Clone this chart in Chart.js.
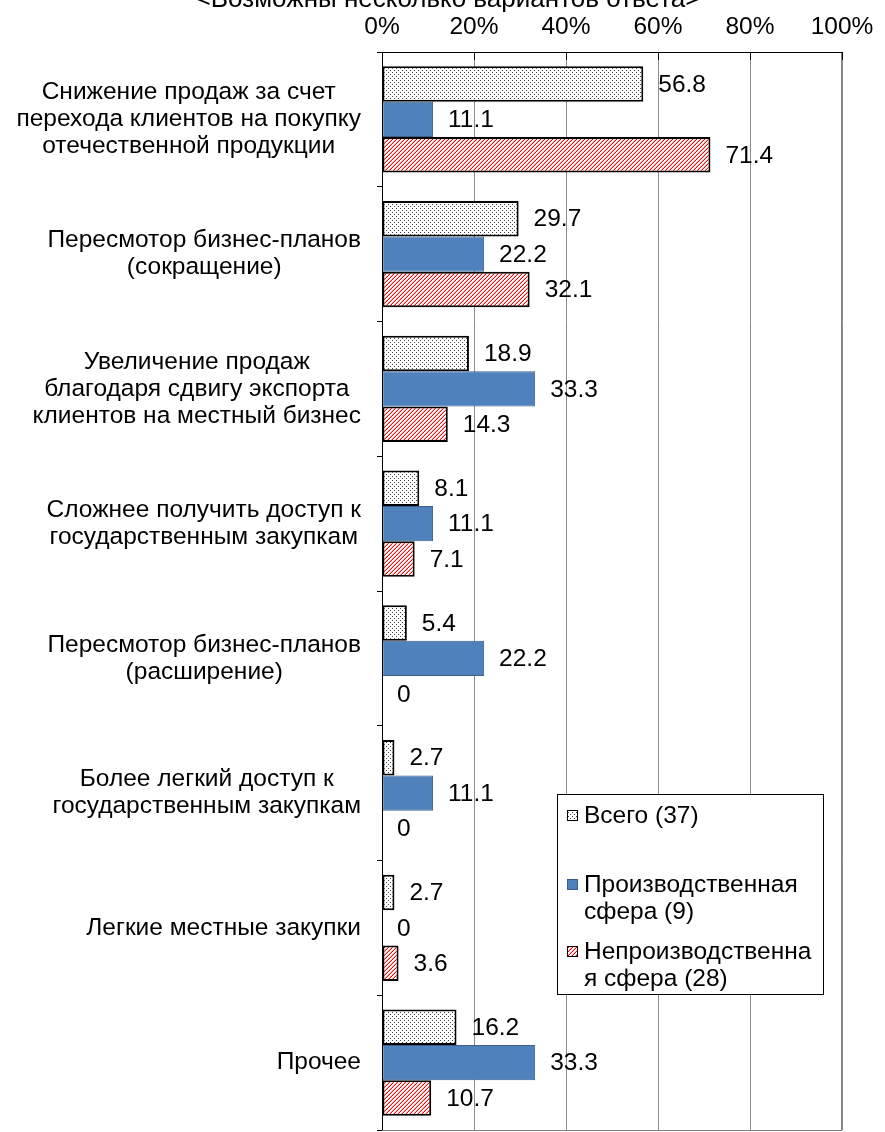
<!DOCTYPE html>
<html>
<head>
<meta charset="utf-8">
<script src="https://cdn.jsdelivr.net/npm/chart.js@4.4.1/dist/chart.umd.min.js"></script>
<style>
  html, body { margin: 0; padding: 0; background: #ffffff; }
  #wrap { position: relative; width: 885px; height: 1132px; }
</style>
</head>
<body>
<div id="wrap"><canvas id="c" width="885" height="1132"></canvas></div>
<script>
const titleText = '<Возможны несколько вариантов ответа>';
const categories = [
  ['Снижение продаж за счет', 'перехода клиентов на покупку', 'отечественной продукции'],
  ['Пересмотор бизнес-планов', '(сокращение)'],
  ['Увеличение продаж', 'благодаря сдвигу экспорта', 'клиентов на местный бизнес'],
  ['Сложнее получить доступ к', 'государственным закупкам'],
  ['Пересмотор бизнес-планов', '(расширение)'],
  ['Более легкий доступ к', 'государственным закупкам'],
  ['Легкие местные закупки'],
  ['Прочее']
];
const seriesNames = ['Всего (37)', 'Производственная сфера (9)', 'Непроизводственная сфера (28)'];
const legendLines = [['Всего (37)'], ['Производственная', 'сфера (9)'], ['Непроизводственна', 'я сфера (28)']];
const totalValues = [56.8, 29.7, 18.9, 8.1, 5.4, 2.7, 2.7, 16.2];
const productionValues = [11.1, 22.2, 33.3, 11.1, 22.2, 11.1, 0, 33.3];
const nonProductionValues = [71.4, 32.1, 14.3, 7.1, 0, 0, 3.6, 10.7];
const xTicks = [0, 20, 40, 60, 80, 100];

const FONT = '"Liberation Sans", Arial, sans-serif';
const FS = 24.5;

function makeDots() {
  const c = document.createElement('canvas');
  c.width = 4; c.height = 4;
  const g = c.getContext('2d');
  g.fillStyle = '#ffffff'; g.fillRect(0, 0, 4, 4);
  g.fillStyle = '#404040';
  g.fillRect(0, 0, 1, 1);
  g.fillRect(2, 2, 1, 1);
  return g.createPattern(c, 'repeat');
}
function makeHatch() {
  const c = document.createElement('canvas');
  c.width = 4; c.height = 4;
  const g = c.getContext('2d');
  g.fillStyle = '#ffffff'; g.fillRect(0, 0, 4, 4);
  for (let y = 0; y < 4; y++) {
    for (let x = 0; x < 4; x++) {
      const s = (x + y) % 4;
      if (s === 3) { g.fillStyle = '#ff0000'; g.fillRect(x, y, 1, 1); }
      else if (s === 2) { g.fillStyle = '#ffb4b4'; g.fillRect(x, y, 1, 1); }
    }
  }
  return g.createPattern(c, 'repeat');
}
const dots = makeDots();
const hatch = makeHatch();
const fills = [dots, '#4f81bd', hatch];
const borders = ['#000000', '#3a5f8b', '#000000'];
const borderWidths = [2, 1, 2];

const decorPlugin = {
  id: 'decor',
  afterDraw(chart) {
    const ctx = chart.ctx;
    const a = chart.chartArea;
    const xs = chart.scales.x, ys = chart.scales.y;
    ctx.save();
    // title (partially cut off at top)
    ctx.font = '26px ' + FONT;
    ctx.fillStyle = '#000';
    ctx.textAlign = 'center';
    ctx.textBaseline = 'alphabetic';
    ctx.fillText(titleText, 448, 7);

    // plot border
    ctx.strokeStyle = '#7f7f7f';
    ctx.lineWidth = 1;
    ctx.strokeRect(a.left + 0.5, a.top + 0.5, a.right - a.left - 1, a.bottom - a.top);
    // axis lines
    ctx.strokeStyle = '#000';
    ctx.beginPath();
    ctx.moveTo(a.left, a.top + 0.5); ctx.lineTo(a.right, a.top + 0.5);
    ctx.moveTo(a.left + 0.5, a.top); ctx.lineTo(a.left + 0.5, a.bottom);
    ctx.stroke();
    // inside tick marks on top axis
    ctx.beginPath();
    xTicks.forEach(v => {
      const px = Math.round(xs.getPixelForValue(v)) + 0.5;
      ctx.moveTo(px, a.top); ctx.lineTo(px, a.top + 8);
    });
    ctx.stroke();

    // category labels: block right-aligned, lines centered in block
    ctx.font = FS + 'px ' + FONT;
    ctx.fillStyle = '#000';
    ctx.textBaseline = 'middle';
    ctx.textAlign = 'center';
    const lh = 27;
    categories.forEach((lines, i) => {
      const cy = ys.getPixelForValue(i);
      let maxW = 0;
      lines.forEach(l => { maxW = Math.max(maxW, ctx.measureText(l).width); });
      const cx = 361 - maxW / 2;
      const y0 = cy - (lines.length - 1) * lh / 2;
      lines.forEach((l, k) => ctx.fillText(l, cx, y0 + k * lh));
    });

    // data labels
    ctx.textAlign = 'left';
    chart.data.datasets.forEach((ds, di) => {
      const meta = chart.getDatasetMeta(di);
      meta.data.forEach((el, i) => {
        const v = ds.data[i];
        ctx.fillText(String(v), el.x + 15, el.y + 1);
      });
    });

    // legend
    const lx = 557, ly = 794, lw = 266, lhh = 200;
    ctx.fillStyle = '#fff';
    ctx.fillRect(lx, ly, lw, lhh);
    ctx.strokeStyle = '#000';
    ctx.lineWidth = 1;
    ctx.strokeRect(lx + 0.5, ly + 0.5, lw, lhh);
    const itemY = [815, 884, 951];
    legendLines.forEach((lines, i) => {
      const y = itemY[i];
      ctx.fillStyle = fills[i];
      ctx.fillRect(567, y - 5, 11, 11);
      ctx.strokeStyle = i === 1 ? '#3a5f8b' : '#000';
      ctx.lineWidth = 1;
      ctx.strokeRect(567.5, y - 4.5, 10, 10);
      ctx.fillStyle = '#000';
      ctx.textAlign = 'left';
      lines.forEach((l, k) => ctx.fillText(l, 584, y + 1 + k * 27));
    });
    ctx.restore();
  }
};

new Chart(document.getElementById('c'), {
  type: 'bar',
  data: {
    labels: categories,
    datasets: seriesNames.map((name, i) => ({
      label: name,
      data: [totalValues, productionValues, nonProductionValues][i],
      backgroundColor: fills[i],
      borderColor: borders[i],
      borderWidth: borderWidths[i],
      borderSkipped: false,
      categoryPercentage: 0.79,
      barPercentage: 1.0
    }))
  },
  options: {
    indexAxis: 'y',
    responsive: false,
    animation: false,
    devicePixelRatio: 1,
    layout: { padding: { left: 0, right: 43, top: 0, bottom: 2 } },
    plugins: { legend: { display: false }, tooltip: { enabled: false }, title: { display: false } },
    scales: {
      x: {
        position: 'top',
        min: 0, max: 100,
        afterBuildTicks(s) { s.ticks = xTicks.map(v => ({ value: v })); },
        ticks: {
          callback: v => v + '%',
          color: '#000',
          font: { family: FONT, size: FS },
          padding: 10,
          maxRotation: 0
        },
        grid: { color: '#8c8c8c', drawTicks: false, lineWidth: 1 },
        border: { display: false },
        afterFit(s) { s.height = 52; }
      },
      y: {
        type: 'category',
        ticks: { display: false },
        grid: { display: true, drawOnChartArea: false, drawTicks: true, tickLength: 5, color: '#000', offset: true },
        border: { display: false },
        afterFit(s) { s.width = 382; }
      }
    }
  },
  plugins: [decorPlugin]
});
</script>
</body>
</html>
